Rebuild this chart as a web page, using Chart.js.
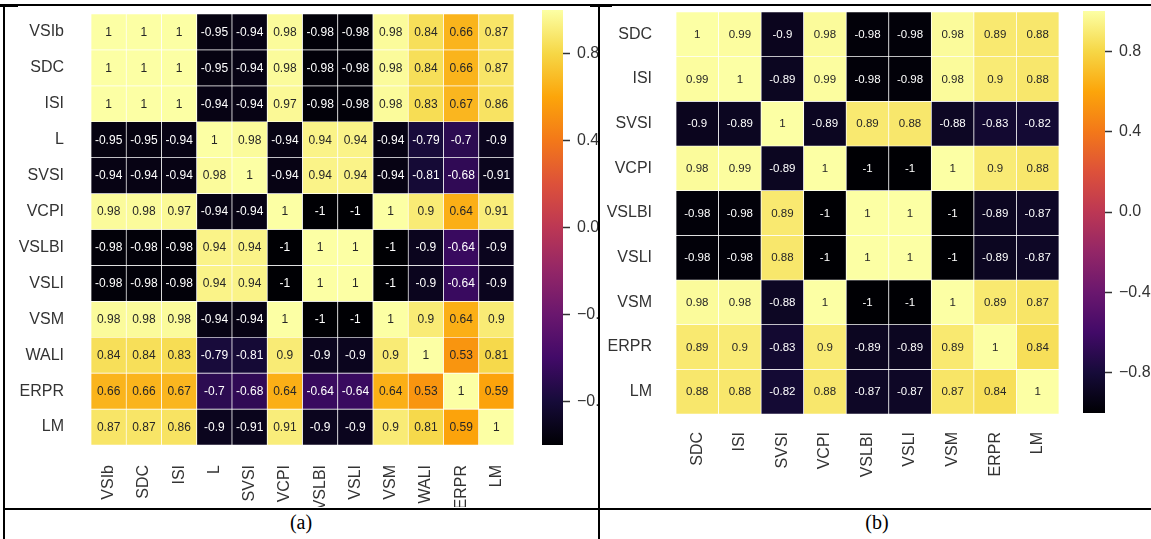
<!DOCTYPE html>
<html>
<head>
<meta charset="utf-8">
<script src="https://cdn.jsdelivr.net/npm/chart.js@4.4.1/dist/chart.umd.min.js"></script>
<style>
  html, body { margin: 0; padding: 0; background: #fff; }
  body { width: 1151px; height: 539px; position: relative; overflow: hidden; }
  canvas { position: absolute; top: 0; }
  .line { position: absolute; background: #000; }
  .cap { position: absolute; top: 511px; width: 80px; text-align: center; line-height: 26px;
         font: 20px "Liberation Serif", "Times New Roman", serif; color: #000; }
</style>
</head>
<body>
<canvas id="heatA" width="530" height="507" style="left:0"></canvas>
<canvas id="barA" width="68" height="460" style="left:530px"></canvas>
<canvas id="heatB" width="470" height="507" style="left:600px"></canvas>
<canvas id="barB" width="81" height="430" style="left:1070px"></canvas>

<div class="line" style="left:0;top:4px;width:1151px;height:2px"></div>
<div class="line" style="left:0;top:4px;width:18px;height:3px"></div>
<div class="line" style="left:590px;top:4px;width:22px;height:3px"></div>
<div class="line" style="left:3px;top:4px;width:2px;height:535px"></div>
<div class="line" style="left:598px;top:4px;width:2px;height:535px"></div>
<div class="line" style="left:3px;top:508px;width:1148px;height:2px"></div>
<div class="cap" style="left:261px">(a)</div>
<div class="cap" style="left:837px">(b)</div>

<script>
// ─── Datos ────────────────────────────────────────────────────
const labelsA = ["VSIb", "SDC", "ISI", "L", "SVSI", "VCPI", "VSLBI", "VSLI", "VSM", "WALI", "ERPR", "LM"];
const valuesA = [
  [1, 1, 1, -0.95, -0.94, 0.98, -0.98, -0.98, 0.98, 0.84, 0.66, 0.87],
  [1, 1, 1, -0.95, -0.94, 0.98, -0.98, -0.98, 0.98, 0.84, 0.66, 0.87],
  [1, 1, 1, -0.94, -0.94, 0.97, -0.98, -0.98, 0.98, 0.83, 0.67, 0.86],
  [-0.95, -0.95, -0.94, 1, 0.98, -0.94, 0.94, 0.94, -0.94, -0.79, -0.7, -0.9],
  [-0.94, -0.94, -0.94, 0.98, 1, -0.94, 0.94, 0.94, -0.94, -0.81, -0.68, -0.91],
  [0.98, 0.98, 0.97, -0.94, -0.94, 1, -1, -1, 1, 0.9, 0.64, 0.91],
  [-0.98, -0.98, -0.98, 0.94, 0.94, -1, 1, 1, -1, -0.9, -0.64, -0.9],
  [-0.98, -0.98, -0.98, 0.94, 0.94, -1, 1, 1, -1, -0.9, -0.64, -0.9],
  [0.98, 0.98, 0.98, -0.94, -0.94, 1, -1, -1, 1, 0.9, 0.64, 0.9],
  [0.84, 0.84, 0.83, -0.79, -0.81, 0.9, -0.9, -0.9, 0.9, 1, 0.53, 0.81],
  [0.66, 0.66, 0.67, -0.7, -0.68, 0.64, -0.64, -0.64, 0.64, 0.53, 1, 0.59],
  [0.87, 0.87, 0.86, -0.9, -0.91, 0.91, -0.9, -0.9, 0.9, 0.81, 0.59, 1]
];

const labelsB = ["SDC", "ISI", "SVSI", "VCPI", "VSLBI", "VSLI", "VSM", "ERPR", "LM"];
const valuesB = [
  [1, 0.99, -0.9, 0.98, -0.98, -0.98, 0.98, 0.89, 0.88],
  [0.99, 1, -0.89, 0.99, -0.98, -0.98, 0.98, 0.9, 0.88],
  [-0.9, -0.89, 1, -0.89, 0.89, 0.88, -0.88, -0.83, -0.82],
  [0.98, 0.99, -0.89, 1, -1, -1, 1, 0.9, 0.88],
  [-0.98, -0.98, 0.89, -1, 1, 1, -1, -0.89, -0.87],
  [-0.98, -0.98, 0.88, -1, 1, 1, -1, -0.89, -0.87],
  [0.98, 0.98, -0.88, 1, -1, -1, 1, 0.89, 0.87],
  [0.89, 0.9, -0.83, 0.9, -0.89, -0.89, 0.89, 1, 0.84],
  [0.88, 0.88, -0.82, 0.88, -0.87, -0.87, 0.87, 0.84, 1]
];

const cbarTicks = [-0.8, -0.4, 0, 0.4, 0.8];
const vmin = -1, vmax = 1;

// ─── Colormap (inferno) ───────────────────────────────────────
const inferno = ["#000004", "#160b39", "#420a68", "#6a176e", "#932667", "#bc3754",
                 "#dd513a", "#f37819", "#fca50a", "#f6d746", "#fcffa4"];
const FONT = '"Liberation Sans", Arial, sans-serif';
const LABEL_COLOR = "#333";

function hexRgb(h) {
  return [1, 3, 5].map(i => parseInt(h.slice(i, i + 2), 16));
}

function rgbAt(v) {
  let t = (v - vmin) / (vmax - vmin);
  t = Math.max(0, Math.min(1, t)) * (inferno.length - 1);
  const i = Math.min(Math.floor(t), inferno.length - 2);
  const f = t - i;
  const a = hexRgb(inferno[i]), b = hexRgb(inferno[i + 1]);
  return a.map((x, k) => Math.round(x + (b[k] - x) * f));
}

function colorAt(v) {
  const [r, g, b] = rgbAt(v);
  return `rgb(${r},${g},${b})`;
}

// igual que seaborn: texto blanco si la celda es oscura
function isDark(v) {
  const lin = rgbAt(v).map(c => {
    c /= 255;
    return c <= 0.03928 ? c / 12.92 : Math.pow((c + 0.055) / 1.055, 2.4);
  });
  return 0.2126 * lin[0] + 0.7152 * lin[1] + 0.0722 * lin[2] <= 0.408;
}

// sin relleno extra alrededor del área del gráfico
function noPad(s) {
  s.paddingTop = 0; s.paddingBottom = 0; s.paddingLeft = 0; s.paddingRight = 0;
}

// ─── Plugin: valores dentro de las celdas ─────────────────────
const cellText = {
  id: "cellText",
  afterDatasetsDraw(chart, args, opts) {
    if (!opts.values) return;
    const ctx = chart.ctx;
    ctx.save();
    ctx.font = `${opts.size}px ${FONT}`;
    ctx.textAlign = "center";
    ctx.textBaseline = "middle";
    opts.values.forEach((row, r) => {
      chart.getDatasetMeta(r).data.forEach((el, c) => {
        const v = row[c];
        ctx.fillStyle = isDark(v) ? "#fff" : "#262626";
        ctx.fillText(String(v), el.x, (el.y + el.base) / 2 + 0.5);
      });
    });
    ctx.restore();
  }
};

// ─── Heatmap ──────────────────────────────────────────────────
function heatmap(id, labels, values, opt) {
  const n = labels.length;
  const datasets = values.map((row, r) => ({
    data: row.map(() => [r - 0.5, r + 0.5]),
    backgroundColor: row.map(colorAt),
    borderColor: "rgba(255,255,255,0.9)",
    borderWidth: 0.7,
    borderSkipped: false,
    grouped: false,
    barPercentage: 1,
    categoryPercentage: 1
  }));

  new Chart(document.getElementById(id), {
    type: "bar",
    data: { labels, datasets },
    plugins: [cellText],
    options: {
      responsive: false,
      animation: false,
      events: [],
      layout: { padding: { left: 0, right: opt.padRight, top: opt.top, bottom: 0 } },
      plugins: {
        legend: { display: false },
        tooltip: { enabled: false },
        cellText: { values, size: opt.textSize }
      },
      scales: {
        x: {
          grid: { display: false, drawTicks: false },
          border: { display: false },
          ticks: { autoSkip: false, minRotation: 90, maxRotation: 90, padding: opt.xPad,
                   color: LABEL_COLOR, font: { size: 16, family: FONT } },
          afterFit: s => { s.height = opt.xHeight; noPad(s); }
        },
        y: {
          type: "linear",
          min: -0.5, max: n - 0.5,
          reverse: true,
          grid: { display: false, drawTicks: false },
          border: { display: false },
          afterBuildTicks: s => { s.ticks = labels.map((_, i) => ({ value: i })); },
          ticks: { padding: opt.yPad, color: LABEL_COLOR, font: { size: 16, family: FONT },
                   callback: v => labels[v] },
          afterFit: s => { s.width = opt.yWidth; noPad(s); }
        }
      }
    }
  });
}

// ─── Barra de color ───────────────────────────────────────────
function colorbar(id, opt) {
  new Chart(document.getElementById(id), {
    type: "bar",
    data: {
      labels: [""],
      datasets: [{
        data: [[vmin, vmax]],
        backgroundColor: c => {
          const area = c.chart.chartArea;
          if (!area) return "#000";
          const g = c.chart.ctx.createLinearGradient(0, area.bottom, 0, area.top);
          inferno.forEach((col, i) => g.addColorStop(i / (inferno.length - 1), col));
          return g;
        },
        borderWidth: 0,
        barPercentage: 1,
        categoryPercentage: 1
      }]
    },
    options: {
      responsive: false,
      animation: false,
      events: [],
      layout: { padding: { left: opt.left, top: opt.top, bottom: opt.bottom, right: 0 } },
      plugins: { legend: { display: false }, tooltip: { enabled: false } },
      scales: {
        x: { display: false },
        y: {
          position: "right",
          min: vmin, max: vmax,
          border: { display: false },
          grid: { drawOnChartArea: false, drawTicks: true, tickLength: 7, tickWidth: 1.5,
                  color: LABEL_COLOR },
          afterBuildTicks: s => { s.ticks = cbarTicks.map(v => ({ value: v })); },
          ticks: { padding: 7, color: LABEL_COLOR, font: { size: 16, family: FONT },
                   callback: v => (v < 0 ? "\u2212" : "") + Math.abs(v).toFixed(1) },
          afterFit: s => { s.width = opt.axisWidth; noPad(s); }
        }
      }
    }
  });
}

// ─── Init ─────────────────────────────────────────────────────
heatmap("heatA", labelsA, valuesA,
  { yWidth: 91, padRight: 16, top: 14, xHeight: 62, xPad: 20, yPad: 27, textSize: 12 });
heatmap("heatB", labelsB, valuesB,
  { yWidth: 76, padRight: 11, top: 12, xHeight: 93, xPad: 18, yPad: 24, textSize: 11.5 });
colorbar("barA", { left: 12, top: 10, bottom: 15, axisWidth: 35 });
colorbar("barB", { left: 13, top: 11, bottom: 17, axisWidth: 46 });
</script>
</body>
</html>
